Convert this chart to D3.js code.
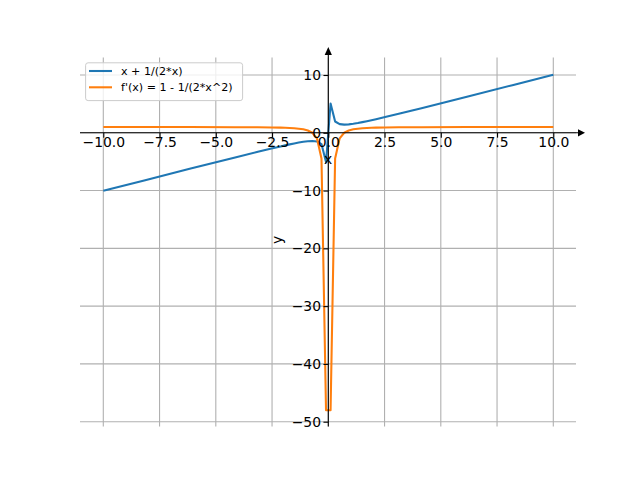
<!DOCTYPE html>
<html>
<head>
<meta charset="utf-8">
<script src="https://cdn.jsdelivr.net/npm/d3@7"></script>
<style>
  html, body { margin: 0; padding: 0; background: #fff; }
  svg { display: block; font-family: "DejaVu Sans", sans-serif; }
</style>
</head>
<body>
<svg id="chart" width="640" height="480"></svg>
<script>
// ---- data ----
const xs = [-10, -8.182, -6.162, -4.141, -3.131, -2.525, -2.121, -1.919, -1.717, -1.515, -1.313, -1.111, -0.909, -0.707, -0.505, -0.303, -0.101,
            0.101, 0.303, 0.505, 0.707, 0.909, 1.111, 1.313, 1.515, 1.717, 1.919, 2.121, 2.525, 3.131, 4.141, 6.162, 8.182, 10];
const fVals = [-10.05, -8.243, -6.243, -4.262, -3.291, -2.723, -2.357, -2.180, -2.008, -1.845, -1.694, -1.561, -1.459, -1.414, -1.495, -1.953, -5.051,
               5.051, 1.953, 1.495, 1.414, 1.459, 1.561, 1.694, 1.845, 2.008, 2.180, 2.357, 2.723, 3.291, 4.262, 6.243, 8.243, 10.05];
const dVals = [0.995, 0.993, 0.987, 0.971, 0.949, 0.922, 0.889, 0.864, 0.830, 0.782, 0.710, 0.595, 0.395, 0.000, -0.960, -4.445, -48.005,
               -48.005, -4.445, -0.960, 0.000, 0.395, 0.595, 0.710, 0.782, 0.830, 0.864, 0.889, 0.922, 0.949, 0.971, 0.987, 0.993, 0.995];
const xTicks = [-10, -7.5, -5, -2.5, 0, 2.5, 5, 7.5, 10];
const yTicks = [10, 0, -10, -20, -30, -40, -50];
const seriesNames = ["x + 1/(2*x)", "f'(x) = 1 - 1/(2*x^2)"];
const colors = ["#1f77b4", "#ff7f0e"];

// ---- layout ----
const svg = d3.select("#chart");
const L = 80, R = 576, T = 57.6, B = 426.5;
const x = d3.scaleLinear().domain([-10, 10]).range([103.3, 553.3]);
const y = d3.scaleLinear().domain([-50, 10]).range([421.7, 75]);
const x0 = x(0), y0 = y(0);

// grid
svg.append("g").selectAll("line").data(xTicks).join("line")
  .attr("x1", d => x(d)).attr("x2", d => x(d)).attr("y1", T).attr("y2", B)
  .attr("stroke", "#b0b0b0").attr("stroke-width", 1.1);
svg.append("g").selectAll("line").data(yTicks).join("line")
  .attr("x1", L).attr("x2", R).attr("y1", d => y(d)).attr("y2", d => y(d))
  .attr("stroke", "#b0b0b0").attr("stroke-width", 1.1);

// lines
const pts = (vals) => xs.map((v, i) => [v, vals[i]]);
const line = d3.line().x(d => x(d[0])).y(d => y(d[1]));
[fVals, dVals].forEach((vals, i) => {
  svg.append("path").datum(pts(vals))
    .attr("d", line).attr("fill", "none")
    .attr("stroke", colors[i]).attr("stroke-width", 2.08)
    .attr("stroke-linejoin", "round").attr("stroke-linecap", "butt");
});

// axis lines with arrows
svg.append("line").attr("x1", L).attr("x2", 580).attr("y1", y0).attr("y2", y0)
  .attr("stroke", "#000").attr("stroke-width", 1.1);
svg.append("line").attr("x1", x0).attr("x2", x0).attr("y1", B).attr("y2", 52)
  .attr("stroke", "#000").attr("stroke-width", 1.1);
svg.append("path").attr("d", `M${585},${y0} L${578},${y0 - 3.6} L${578},${y0 + 3.6} Z`).attr("fill", "#000");
svg.append("path").attr("d", `M${x0},${47} L${x0 - 3.6},${55} L${x0 + 3.6},${55} Z`).attr("fill", "#000");

// ticks & labels
const xAxis = svg.append("g").attr("transform", `translate(0,${y0})`)
  .call(d3.axisBottom(x).tickValues(xTicks).tickSize(4.86).tickSizeOuter(0).tickPadding(-1)
    .tickFormat(d3.format(".1f")));
const yAxis = svg.append("g").attr("transform", `translate(${x0},0)`)
  .call(d3.axisLeft(y).tickValues(yTicks).tickSize(4.86).tickSizeOuter(0).tickPadding(2.4)
    .tickFormat(d3.format("d")));
[xAxis, yAxis].forEach(g => {
  g.select(".domain").remove();
  g.selectAll(".tick line").attr("stroke", "#000").attr("stroke-width", 1.1);
  g.selectAll(".tick text").attr("fill", "#000")
    .style("font-family", "DejaVu Sans").style("font-size", "13.9px");
});

// axis labels
svg.append("text").attr("x", (L + R) / 2).attr("y", 164).attr("text-anchor", "middle")
  .style("font-size", "13.9px").text("x");
svg.append("text").attr("transform", `translate(282,240) rotate(-90)`).attr("text-anchor", "middle")
  .style("font-size", "13.9px").text("y");

// legend
const lg = svg.append("g");
lg.append("rect").attr("x", 85.6).attr("y", 62.8).attr("width", 157).attr("height", 37.8)
  .attr("rx", 2.5).attr("fill", "#fff").attr("fill-opacity", 0.8)
  .attr("stroke", "#cccccc").attr("stroke-width", 1);
const rowsY = [71, 87.3];
seriesNames.forEach((name, i) => {
  lg.append("line").attr("x1", 89).attr("x2", 112).attr("y1", rowsY[i]).attr("y2", rowsY[i])
    .attr("stroke", colors[i]).attr("stroke-width", 2.08);
  lg.append("text").attr("x", 121).attr("y", rowsY[i] + 4).style("font-size", "11.1px").text(name);
});
</script>
</body>
</html>
